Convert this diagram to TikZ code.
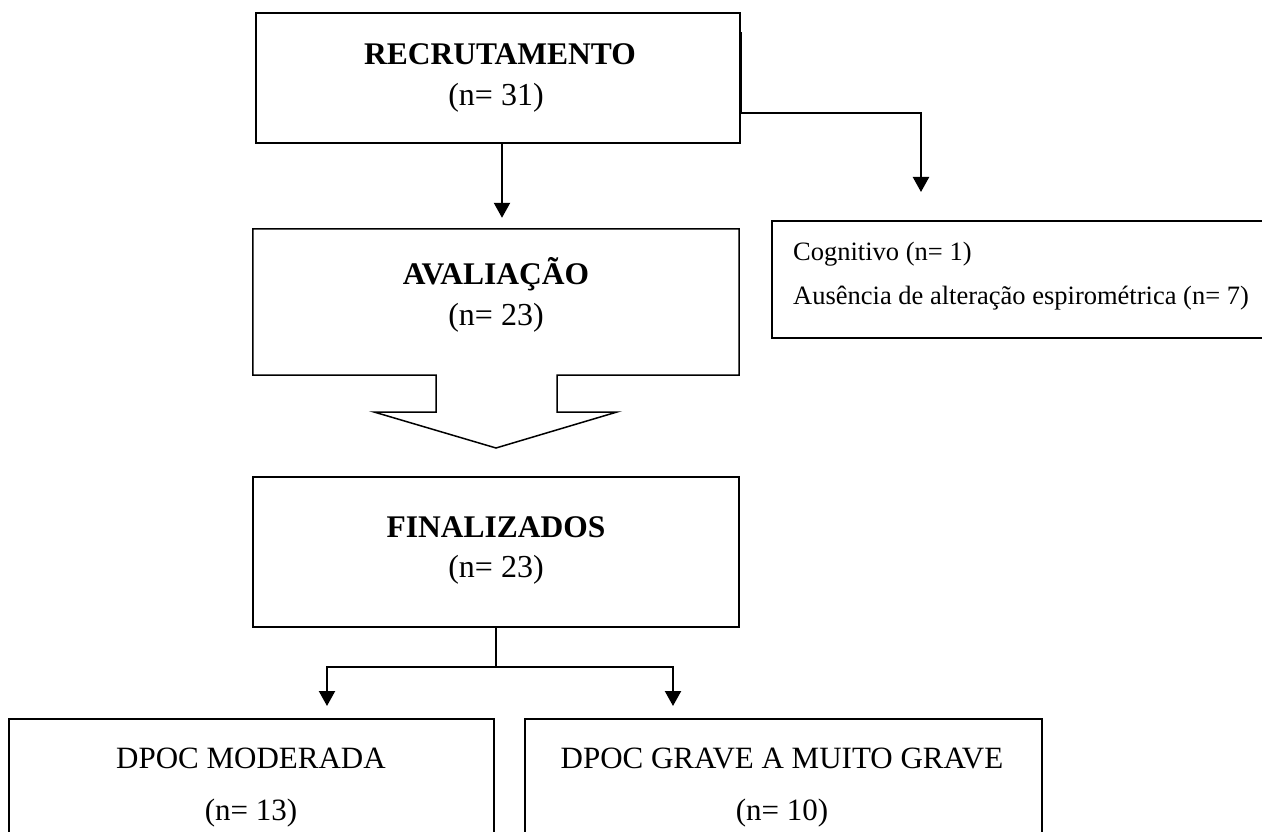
\documentclass[tikz,border=0pt]{standalone}
\usepackage{fontspec}
\setmainfont{Liberation Serif}
\usetikzlibrary{arrows.meta,calc}
\begin{document}
\begin{tikzpicture}[x=1pt,y=-1pt,
  box/.style={draw=black,line width=1.5pt,rectangle,inner sep=0pt},
  txt/.style={anchor=base,inner sep=0pt,font=\fontsize{32}{36}\selectfont},
  head/.style={anchor=base,inner sep=0pt,font=\fontsize{31.5}{36}\selectfont\bfseries},
  small/.style={anchor=base west,inner sep=0pt,font=\fontsize{26.5}{30}\selectfont},
  line/.style={draw=black,line width=2.2pt},
  arr/.style={line,-{Triangle[width=16pt,length=15pt]}}]
\useasboundingbox (0,0) rectangle (1262,832);
\fill[white] (0,0) rectangle (1262,832);
% boxes
\node[box,minimum width=484pt,minimum height=130pt] (rec) at (498,78) {};
\node[box,minimum width=494pt,minimum height=117pt] (cog) at (1019,279.5) {};
\node[inner sep=0pt,minimum width=486pt,minimum height=146pt] (ava) at (496,302) {};
\draw[line width=1.5pt,line join=miter] (ava.north west) -- (ava.north east) -- (739,375) -- (557,375) -- (557,412) -- (617,412) -- (496,448) -- (374,412) -- (436,412) -- (436,375) -- (ava.south west) -- cycle;
\node[box,minimum width=486pt,minimum height=150pt] (fin) at (496,552) {};
\node[box,minimum width=485pt,minimum height=118pt] (mod) at (251.5,778) {};
\node[box,minimum width=517pt,minimum height=118pt] (grv) at (783.5,778) {};
% texts
\node[head] (t1) at (500,65) {RECRUTAMENTO};
\node[txt] (n1) at (496,106) {(n= 31)};
\node[head] (t2) at (496,284) {AVALIAÇÃO};
\node[txt] (n2) at (496,325) {(n= 23)};
\node[head] (t3) at (496,537) {FINALIZADOS};
\node[txt] (n3) at (496,577) {(n= 23)};
\node[small] (c1) at (793,260) {Cognitivo (n= 1)};
\node[small] (c2) at (793,304) {Ausência de alteração espirométrica (n= 7)};
\node[txt,font=\fontsize{31}{36}\selectfont] (t4) at (251,768) {DPOC MODERADA};
\node[txt,font=\fontsize{31}{36}\selectfont] (n4) at (251,820) {(n= 13)};
\node[txt,font=\fontsize{31}{36}\selectfont] (t5) at (782,768) {DPOC GRAVE A MUITO GRAVE};
\node[txt,font=\fontsize{31}{36}\selectfont] (n5) at (782,820) {(n= 10)};
% connectors
\draw[arr] ([xshift=4pt]rec.south) -- ([xshift=6pt,yshift=11pt]ava.north);
\coordinate (tipc) at (921,192);
\draw[arr] ([yshift=-20pt]rec.north east) |- ([yshift=79pt]tipc) -- (tipc);
\coordinate (split) at (496,667);
\coordinate (tl) at (327,706);
\coordinate (tr) at (673,706);
\draw[line] (fin.south) -- (split);
\draw[arr] (split) -| (tl);
\draw[arr] (split) -| (tr);
\end{tikzpicture}
\end{document}
